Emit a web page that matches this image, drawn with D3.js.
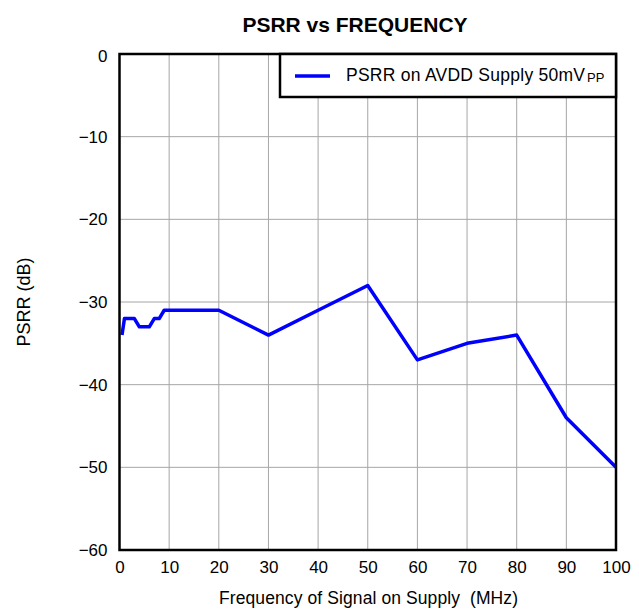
<!DOCTYPE html>
<html>
<head>
<meta charset="utf-8">
<script src="https://cdn.jsdelivr.net/npm/d3@7/dist/d3.min.js"></script>
<style>
  body { margin: 0; background: #fff; }
  text { font-family: Arial, "Liberation Sans", sans-serif; fill: #000; }
</style>
</head>
<body>
<svg id="chart" width="639" height="616"></svg>
<script>
// PSRR on AVDD supply (dB) vs ripple frequency (MHz)
const freqMHz = [0.5, 1, 3, 4, 6, 7, 8, 9, 10, 20, 30, 40, 50, 60, 70, 80, 90, 100];
const psrrDb  = [-34, -32, -32, -33, -33, -32, -32, -31, -31, -31, -34, -31, -28, -37, -35, -34, -44, -50];
const xTicks = [0, 10, 20, 30, 40, 50, 60, 70, 80, 90, 100];
const yTicks = [0, -10, -20, -30, -40, -50, -60];

const FONT = "Arial, 'Liberation Sans', sans-serif";
const svg = d3.select("#chart");
const plot = { left: 119.5, top: 54, right: 616, bottom: 550 };

const x = d3.scaleLinear().domain([0, 100]).range([plot.left, plot.right]);
const y = d3.scaleLinear().domain([-60, 0]).range([plot.bottom, plot.top]);

// grid
const grid = svg.append("g");
grid.selectAll("line.vx").data(xTicks.slice(1, -1)).join("line")
  .attr("x1", d => x(d)).attr("x2", d => x(d))
  .attr("y1", plot.top).attr("y2", plot.bottom)
  .attr("stroke", "#a6a6a6").attr("stroke-width", 1);
grid.selectAll("line.hy").data(yTicks.slice(1, -1)).join("line")
  .attr("x1", plot.left).attr("x2", plot.right)
  .attr("y1", d => y(d)).attr("y2", d => y(d))
  .attr("stroke", "#a6a6a6").attr("stroke-width", 1);

// axes (labels only; frame drawn separately)
const xAxis = svg.append("g").attr("transform", `translate(0,${plot.bottom})`)
  .call(d3.axisBottom(x).tickValues(xTicks).tickSize(0).tickPadding(11));
const yAxis = svg.append("g").attr("transform", `translate(${plot.left},0)`)
  .call(d3.axisLeft(y).tickValues(yTicks).tickSize(0).tickPadding(12)
    .tickFormat(d => d < 0 ? "\u2212" + Math.abs(d) : d));
[xAxis, yAxis].forEach(g => {
  g.select(".domain").remove();
  g.selectAll("text").attr("font-size", 17).attr("font-family", FONT).attr("fill", "#000");
});
yAxis.selectAll(".tick").filter(d => d === 0).select("text").attr("dy", "0.45em");

// data line
const line = d3.line().x((d, i) => x(freqMHz[i])).y(d => y(d));
svg.append("path").datum(psrrDb)
  .attr("d", line)
  .attr("fill", "none")
  .attr("stroke", "#0000ff")
  .attr("stroke-width", 3.5)
  .attr("stroke-linejoin", "round");

// frame
svg.append("rect")
  .attr("x", plot.left).attr("y", plot.top)
  .attr("width", plot.right - plot.left).attr("height", plot.bottom - plot.top)
  .attr("fill", "none").attr("stroke", "#000").attr("stroke-width", 2.5);

// legend
const lg = svg.append("g");
lg.append("rect")
  .attr("x", 280).attr("y", plot.top)
  .attr("width", plot.right - 280).attr("height", 43)
  .attr("fill", "#fff").attr("stroke", "#000").attr("stroke-width", 2.5);
lg.append("line")
  .attr("x1", 295).attr("x2", 330).attr("y1", 76).attr("y2", 76)
  .attr("stroke", "#0000ff").attr("stroke-width", 3.5);
lg.append("text").attr("x", 346).attr("y", 81).attr("font-size", 17.5)
  .attr("textLength", 239).attr("lengthAdjust", "spacing")
  .text("PSRR on AVDD Supply 50mV");
lg.append("text").attr("x", 587).attr("y", 82).attr("font-size", 13)
  .text("PP");

// title and axis titles
svg.append("text").attr("x", 355).attr("y", 31.5)
  .attr("text-anchor", "middle").attr("font-size", 21).attr("font-weight", "bold")
  .text("PSRR vs FREQUENCY");
svg.append("text").attr("x", 368.5).attr("y", 603.5)
  .attr("text-anchor", "middle").attr("font-size", 17.5)
  .style("white-space", "pre")
  .attr("textLength", 299).attr("lengthAdjust", "spacing")
  .text("Frequency of Signal on Supply  (MHz)");
svg.append("text")
  .attr("transform", `translate(30,${(plot.top + plot.bottom) / 2}) rotate(-90)`)
  .attr("text-anchor", "middle").attr("font-size", 18)
  .text("PSRR (dB)");
</script>
</body>
</html>
